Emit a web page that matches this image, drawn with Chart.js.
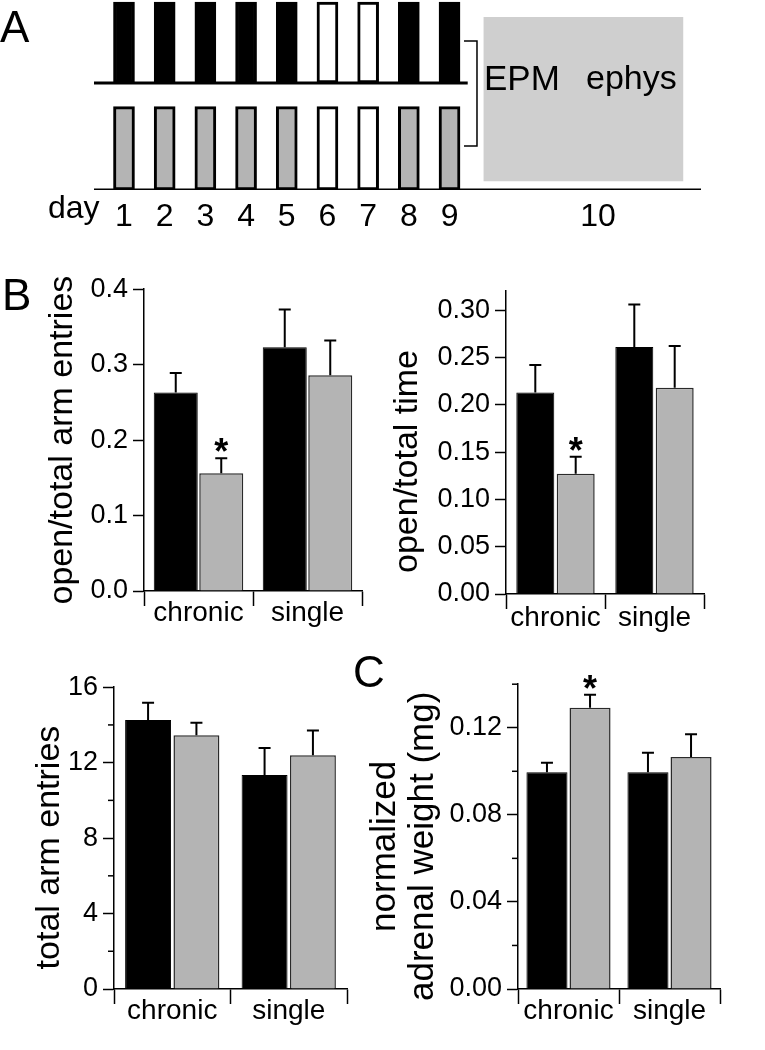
<!DOCTYPE html>
<html>
<head>
<meta charset="utf-8">
<script src="https://cdn.jsdelivr.net/npm/chart.js@4.4.1/dist/chart.umd.min.js"></script>
<style>
  body { margin: 0; background: #fff; }
  #fig { position: relative; width: 765px; height: 1050px; overflow: hidden; font-family: Arial, "Liberation Sans", sans-serif; }
  #fig canvas { position: absolute; }
  .lbl { position: absolute; line-height: 1; color: #000; white-space: nowrap; }
</style>
</head>
<body>
<div id="fig">
  <canvas id="schedule" width="765" height="240" style="left:0;top:0"></canvas>
  <canvas id="armEntries" width="372" height="378" style="left:0;top:268px"></canvas>
  <canvas id="armTime" width="332" height="379" style="left:382px;top:270px"></canvas>
  <canvas id="totalEntries" width="357" height="378" style="left:0;top:666px"></canvas>
  <canvas id="adrenal" width="371" height="381" style="left:359px;top:663px"></canvas>

  <div class="lbl" style="left:0;top:5px;font-size:44px">A</div>
  <div class="lbl" style="left:2px;top:273px;font-size:44px">B</div>
  <div class="lbl" style="left:353px;top:650px;font-size:44px">C</div>
  <div class="lbl" style="left:48px;top:191px;font-size:32px">day</div>
  <div class="lbl" style="left:484px;top:60px;font-size:35px">EPM</div>
  <div class="lbl" style="left:586px;top:60px;font-size:34px">ephys</div>
</div>
<script>
// ---- panel A: schedule ----
const dayLabels = ['1', '2', '3', '4', '5', '6', '7', '8', '9', '10'];
const topSessions = [1, 1, 1, 1, 1, 0, 0, 1, 1];     // 1 = session, 0 = off
const bottomSessions = [1, 1, 1, 1, 1, 0, 0, 1, 1];

// ---- panels B and C ----
const groups = ['chronic', 'single'];

const openEntriesCtrl = [0.263, 0.323];
const openEntriesCtrlSem = [0.026, 0.050];
const openEntriesStress = [0.156, 0.286];
const openEntriesStressSem = [0.020, 0.046];
const openEntriesSig = [true, false];

const openTimeCtrl = [0.213, 0.261];
const openTimeCtrlSem = [0.029, 0.045];
const openTimeStress = [0.127, 0.218];
const openTimeStressSem = [0.018, 0.044];
const openTimeSig = [true, false];

const totalEntriesCtrl = [14.26, 11.34];
const totalEntriesCtrlSem = [0.91, 1.44];
const totalEntriesStress = [13.45, 12.39];
const totalEntriesStressSem = [0.66, 1.32];
const totalEntriesSig = [false, false];

const adrenalCtrl = [0.0995, 0.0995];
const adrenalCtrlSem = [0.0044, 0.0090];
const adrenalStress = [0.1292, 0.1066];
const adrenalStressSem = [0.0059, 0.0104];
const adrenalSig = [true, false];

Chart.defaults.font.family = 'Arial, "Liberation Sans", sans-serif';
Chart.defaults.color = '#000';
Chart.defaults.animation = false;

// one-sided SEM bars + significance stars
const errorBars = {
    id: 'errorBars',
    afterDatasetsDraw(chart) {
        const ctx = chart.ctx;
        const yScale = chart.scales.y;
        chart.data.datasets.forEach((ds, i) => {
            const meta = chart.getDatasetMeta(i);
            meta.data.forEach((bar, j) => {
                const top = yScale.getPixelForValue(ds.data[j] + ds.sem[j]);
                ctx.save();
                ctx.strokeStyle = '#000';
                ctx.lineWidth = 2;
                ctx.beginPath();
                ctx.moveTo(bar.x, bar.y);
                ctx.lineTo(bar.x, top);
                ctx.moveTo(bar.x - 6, top);
                ctx.lineTo(bar.x + 6, top);
                ctx.stroke();
                if (ds.sig && ds.sig[j]) {
                    ctx.fillStyle = '#000';
                    ctx.font = 'bold 36px Arial, "Liberation Sans", sans-serif';
                    ctx.textAlign = 'center';
                    ctx.textBaseline = 'alphabetic';
                    ctx.fillText('*', bar.x, top + 6);
                }
                ctx.restore();
            });
        });
    }
};

// short unlabeled ticks on the y axis
const minorTicks = {
    id: 'minorTicks',
    afterDraw(chart, args, opts) {
        const yScale = chart.scales.y;
        const ctx = chart.ctx;
        ctx.save();
        ctx.strokeStyle = '#000';
        ctx.lineWidth = 1.5;
        (opts.values || []).forEach(v => {
            const py = yScale.getPixelForValue(v);
            ctx.beginPath();
            ctx.moveTo(yScale.right - 6, py);
            ctx.lineTo(yScale.right, py);
            ctx.stroke();
        });
        ctx.restore();
    }
};

function groupChart(id, cfg) {
    return new Chart(document.getElementById(id), {
        type: 'bar',
        data: {
            labels: groups,
            datasets: [{
                data: cfg.ctrl,
                sem: cfg.ctrlSem,
                backgroundColor: '#000',
                borderColor: '#000',
                borderWidth: 1,
                categoryPercentage: cfg.cat,
                barPercentage: cfg.bar
            }, {
                data: cfg.stress,
                sem: cfg.stressSem,
                sig: cfg.sig,
                backgroundColor: '#b4b4b4',
                borderColor: '#2a2a2a',
                borderWidth: 1.5,
                categoryPercentage: cfg.cat,
                barPercentage: cfg.bar
            }]
        },
        options: {
            responsive: false,
            animation: false,
            layout: { padding: cfg.padding },
            plugins: {
                legend: { display: false },
                tooltip: { enabled: false },
                minorTicks: { values: cfg.minor || [] }
            },
            scales: {
                x: {
                    grid: { offset: true, drawOnChartArea: false, tickLength: 15, tickWidth: 1.5, tickColor: '#000' },
                    border: { color: '#000', width: 1.5 },
                    ticks: { font: { size: 28 }, padding: cfg.xPad || -10, maxRotation: 0 },
                    afterFit: s => { s.height = 50; }
                },
                y: {
                    min: 0,
                    max: cfg.max,
                    grid: { drawOnChartArea: false, tickLength: 11, tickWidth: 1.5, tickColor: '#000' },
                    border: { color: '#000', width: 1.5 },
                    ticks: {
                        stepSize: cfg.step,
                        includeBounds: false,
                        font: { size: 27 },
                        padding: 5,
                        callback: v => v.toFixed(cfg.decimals)
                    },
                    title: {
                        display: true,
                        text: cfg.title,
                        font: { size: cfg.titleSize || 34, lineHeight: cfg.titleLine || 1.2 },
                        padding: 0
                    },
                    afterFit: s => { s.width = cfg.axisWidth; }
                }
            }
        },
        plugins: [errorBars, minorTicks]
    });
}

// panel A, drawn on a day axis
const barH = 1;
const topBase = 1.284;
const day10Tick = 12.65;
new Chart(document.getElementById('schedule'), {
    type: 'bar',
    data: {
        datasets: [{
            data: topSessions.map((s, i) => ({ x: i + 1, y: [topBase, topBase + 0.97 * barH] })),
            backgroundColor: topSessions.map(s => s ? '#000' : '#fff'),
            borderColor: '#000',
            borderWidth: 3,
            borderSkipped: false,
            barThickness: 21,
            grouped: false
        }, {
            data: bottomSessions.map((s, i) => ({ x: i + 1, y: [0, barH] })),
            backgroundColor: bottomSessions.map(s => s ? '#b4b4b4' : '#fff'),
            borderColor: '#000',
            borderWidth: 3,
            borderSkipped: false,
            barThickness: 21,
            grouped: false
        }, {
            // EPM / ephys block on day 10
            data: [{ x: 12.29, y: [0.108, 2.073] }],
            backgroundColor: '#cfcfcf',
            borderWidth: 0,
            barThickness: 199,
            grouped: false,
            order: 5
        }, {
            type: 'line',
            data: [{ x: 0.263, y: topBase }, { x: 9.447, y: topBase }],
            borderColor: '#000',
            borderWidth: 3,
            pointRadius: 0
        }, {
            type: 'line',
            data: [{ x: 0.263, y: 0 }, { x: 15.18, y: 0 }],
            borderColor: '#000',
            borderWidth: 3,
            pointRadius: 0
        }, {
            // bracket joining both groups
            type: 'line',
            data: [{ x: 9.356, y: 1.789 }, { x: 9.675, y: 1.789 }, { x: 9.675, y: 0.528 }, { x: 9.356, y: 0.528 }],
            borderColor: '#000',
            borderWidth: 1.5,
            pointRadius: 0
        }]
    },
    options: {
        responsive: false,
        animation: false,
        layout: { padding: { left: 94, right: 64, top: 0, bottom: 10 } },
        plugins: { legend: { display: false }, tooltip: { enabled: false } },
        scales: {
            x: {
                type: 'linear',
                min: 0.263,
                max: 15.18,
                offset: false,
                grid: { display: false },
                border: { display: false },
                afterBuildTicks: s => {
                    s.ticks = dayLabels.map((d, i) => ({ value: i < 9 ? i + 1 : day10Tick }));
                },
                ticks: { font: { size: 32 }, padding: 0, autoSkip: false, maxRotation: 0, callback: (v, i) => dayLabels[i] },
                afterFit: s => { s.height = 40; }
            },
            y: { display: false, min: 0, max: 2.28 }
        }
    }
});

groupChart('armEntries', {
    ctrl: openEntriesCtrl, ctrlSem: openEntriesCtrlSem,
    stress: openEntriesStress, stressSem: openEntriesStressSem, sig: openEntriesSig,
    max: 0.4, step: 0.1, decimals: 1,
    title: 'open/total arm entries',
    padding: { left: 42, top: 20, right: 10, bottom: 5 },
    axisWidth: 102, cat: 0.835, bar: 0.967
});

// trailing spaces nudge the centred titles down, as in the original
groupChart('armTime', {
    ctrl: openTimeCtrl, ctrlSem: openTimeCtrlSem,
    stress: openTimeStress, stressSem: openTimeStressSem, sig: openTimeSig,
    max: 0.32, step: 0.05, decimals: 2,
    title: 'open/total time    ',
    padding: { left: 5, top: 20, right: 10, bottom: 5 },
    axisWidth: 119, cat: 0.816, bar: 0.94, xPad: -8
});

groupChart('totalEntries', {
    ctrl: totalEntriesCtrl, ctrlSem: totalEntriesCtrlSem,
    stress: totalEntriesStress, stressSem: totalEntriesStressSem, sig: totalEntriesSig,
    max: 16, step: 4, decimals: 0, minor: [2, 6, 10, 14],
    title: 'total arm entries  ',
    padding: { left: 29, top: 20, right: 10, bottom: 5 },
    axisWidth: 85, cat: 0.83, bar: 0.95
});

groupChart('adrenal', {
    ctrl: adrenalCtrl, ctrlSem: adrenalCtrlSem,
    stress: adrenalStress, stressSem: adrenalStressSem, sig: adrenalSig,
    max: 0.14, step: 0.04, decimals: 2, minor: [0.02, 0.06, 0.10, 0.14],
    title: ['normalized  ', 'adrenal weight (mg)  '], titleSize: 35, titleLine: 1.1,
    padding: { left: 7, top: 20, right: 10, bottom: 5 },
    axisWidth: 152, cat: 0.853, bar: 0.953
});
</script>
</body>
</html>
